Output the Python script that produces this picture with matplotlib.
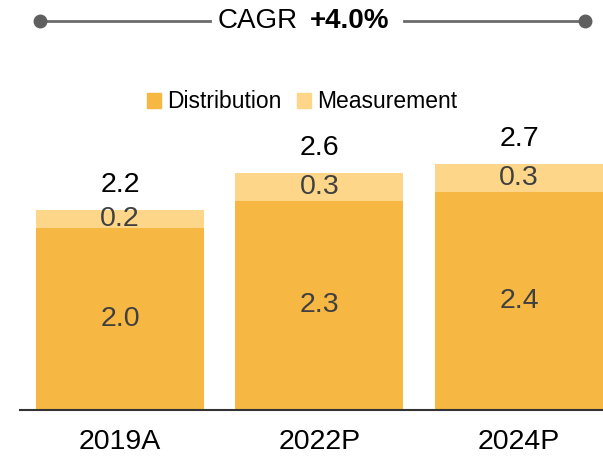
import matplotlib.pyplot as plt
from matplotlib.lines import Line2D
from matplotlib.patches import Patch
import numpy as np

plt.rcParams['font.family'] = ['Liberation Sans', 'DejaVu Sans']

years = ['2019A', '2022P', '2024P']
distribution = [2.0, 2.3, 2.4]
measurement = [0.2, 0.3, 0.3]
totals = [2.2, 2.6, 2.7]
cagr = '+4.0%'

dist_color = '#F6B843'
meas_color = '#FDD68A'

W, H = 603, 462
fig = plt.figure(figsize=(W / 100, H / 100), dpi=100)
ax = fig.add_axes([20 / W, 52 / H, 583 / W, 273 / H])

x = np.arange(len(years))
width = 0.842
ax.bar(x, distribution, width=width, color=dist_color)
ax.bar(x, measurement, width=width, bottom=distribution, color=meas_color)

for i in range(len(years)):
    ax.text(x[i], distribution[i] / 2, f'{distribution[i]:.1f}',
            ha='center', va='center', fontsize=20.5, color='#404040')
    ax.text(x[i], distribution[i] + measurement[i] / 2, f'{measurement[i]:.1f}',
            ha='center', va='center', fontsize=20.5, color='#404040')
    ax.annotate(f'{totals[i]:.1f}', xy=(x[i], distribution[i] + measurement[i]),
                xytext=(0, 13), textcoords='offset points',
                ha='center', va='baseline', fontsize=20.5, color='black',
                annotation_clip=False)

ax.set_xlim(-0.501, 2.421)
ax.set_ylim(0, 3.0)
ax.set_xticks(x)
ax.set_xticklabels(years, fontsize=20.5)
ax.tick_params(axis='x', length=0, pad=14)
ax.set_yticks([])
for side in ['left', 'right', 'top']:
    ax.spines[side].set_visible(False)
ax.spines['bottom'].set_color('#333333')
ax.spines['bottom'].set_linewidth(1.5)

handles = [Patch(color=dist_color, label='Distribution'),
           Patch(color=meas_color, label='Measurement')]
fig.legend(handles=handles, loc='center', bbox_to_anchor=(302 / W, 1 - 102 / H),
           ncol=2, frameon=False, fontsize=16.5, handlelength=0.6,
           handleheight=0.6, handletextpad=0.25, columnspacing=0.7)

# CAGR bracket across the top
yl = 1 - 21 / H
fig.add_artist(Line2D([40 / W, 210 / W], [yl, yl], color='#6b6b6b', lw=2))
fig.add_artist(Line2D([404 / W, 585 / W], [yl, yl], color='#6b6b6b', lw=2))
fig.add_artist(Line2D([40 / W, 585 / W], [yl, yl], color='#5f5f5f', lw=0,
                      marker='o', markersize=9))
fig.text(298 / W, yl, 'CAGR', ha='right', va='center', fontsize=20)
fig.text(310 / W, yl, cagr, ha='left', va='center', fontsize=20,
         fontweight='bold')

fig.savefig('out.png', dpi=100)
